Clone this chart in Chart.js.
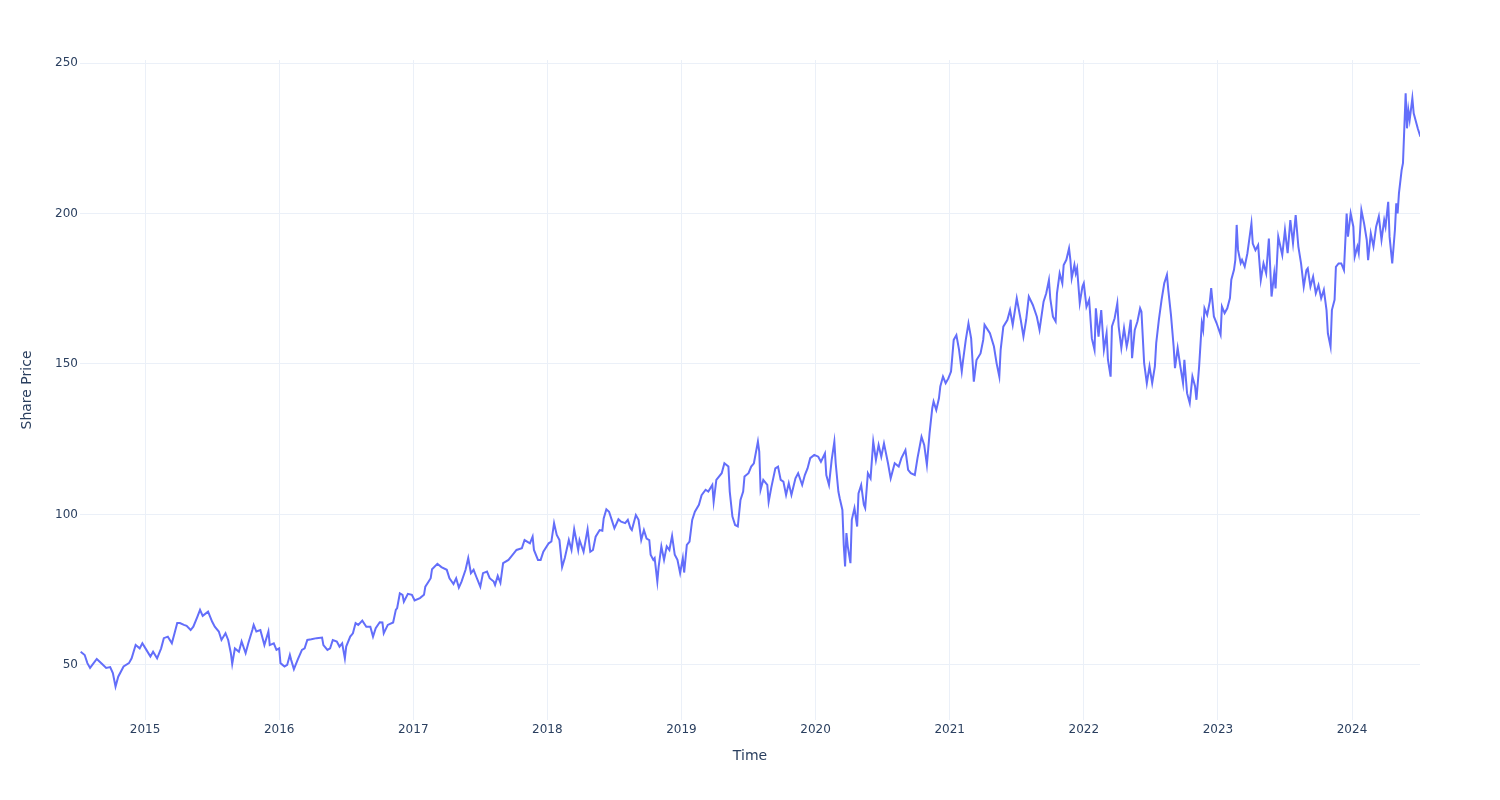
<!DOCTYPE html>
<html lang="en">
<head>
    <meta charset="UTF-8">
    <title>Share Price</title>
    <script src="https://cdn.jsdelivr.net/npm/chart.js"></script>
    <style>
        html, body { margin: 0; padding: 0; background: #ffffff; }
        canvas { display: block; }
    </style>
</head>
<body>
    <canvas id="priceChart" width="1500" height="800"></canvas>

    <script>
        // time in decimal years
        const times = [
            2014.52, 2014.55, 2014.57, 2014.59, 2014.64, 2014.68, 2014.71, 2014.74, 2014.76, 2014.78,
            2014.80, 2014.84, 2014.88, 2014.90, 2014.93, 2014.96, 2014.98, 2015.01, 2015.04, 2015.06,
            2015.09, 2015.12, 2015.14, 2015.17, 2015.20, 2015.22, 2015.24, 2015.26, 2015.29, 2015.31,
            2015.34, 2015.36, 2015.39, 2015.41, 2015.43, 2015.47, 2015.50, 2015.52, 2015.55, 2015.57,
            2015.60, 2015.62, 2015.64, 2015.65, 2015.67, 2015.70, 2015.72, 2015.75, 2015.77, 2015.80,
            2015.81, 2015.83, 2015.86, 2015.88, 2015.89, 2015.92, 2015.93, 2015.96, 2015.98, 2016.00,
            2016.01, 2016.04, 2016.06, 2016.08, 2016.09, 2016.11, 2016.14, 2016.17, 2016.19, 2016.21,
            2016.24, 2016.28, 2016.32, 2016.33, 2016.36, 2016.38, 2016.40, 2016.43, 2016.45, 2016.47,
            2016.49, 2016.50, 2016.53, 2016.55, 2016.57, 2016.59, 2016.62, 2016.65, 2016.68, 2016.70,
            2016.72, 2016.75, 2016.77, 2016.78, 2016.81, 2016.85, 2016.87, 2016.88, 2016.90, 2016.92,
            2016.93, 2016.96, 2016.99, 2017.01, 2017.05, 2017.08, 2017.09, 2017.11, 2017.13, 2017.14,
            2017.18, 2017.21, 2017.25, 2017.27, 2017.30, 2017.32, 2017.34, 2017.36, 2017.39, 2017.41,
            2017.43, 2017.45, 2017.47, 2017.50, 2017.52, 2017.55, 2017.57, 2017.60, 2017.61, 2017.63,
            2017.65, 2017.67, 2017.71, 2017.73, 2017.77, 2017.81, 2017.83, 2017.87, 2017.89, 2017.90,
            2017.93, 2017.95, 2017.97, 2018.01, 2018.03, 2018.05, 2018.07, 2018.09, 2018.11, 2018.13,
            2018.16, 2018.18, 2018.20, 2018.23, 2018.24, 2018.27, 2018.30, 2018.32, 2018.34, 2018.36,
            2018.39, 2018.41, 2018.42, 2018.44, 2018.46, 2018.48, 2018.50, 2018.53, 2018.55, 2018.58,
            2018.60, 2018.62, 2018.63, 2018.66, 2018.68, 2018.70, 2018.72, 2018.74, 2018.76, 2018.77,
            2018.79, 2018.80, 2018.82, 2018.83, 2018.85, 2018.87, 2018.89, 2018.91, 2018.93, 2018.95,
            2018.97, 2018.99, 2019.01, 2019.02, 2019.04, 2019.06, 2019.08, 2019.10, 2019.13, 2019.15,
            2019.18, 2019.20, 2019.23, 2019.24, 2019.26, 2019.30, 2019.32, 2019.35, 2019.36, 2019.38,
            2019.40, 2019.42, 2019.44, 2019.46, 2019.47, 2019.50, 2019.52, 2019.54, 2019.57, 2019.58,
            2019.59, 2019.61, 2019.64, 2019.65, 2019.67, 2019.70, 2019.72, 2019.74, 2019.76, 2019.78,
            2019.80, 2019.82, 2019.85, 2019.87, 2019.90, 2019.92, 2019.94, 2019.96, 2019.99, 2020.02,
            2020.04, 2020.07, 2020.08, 2020.10, 2020.12, 2020.14, 2020.15, 2020.17, 2020.18, 2020.20,
            2020.21, 2020.22, 2020.23, 2020.24, 2020.26, 2020.27, 2020.29, 2020.31, 2020.32, 2020.34,
            2020.36, 2020.37, 2020.39, 2020.41, 2020.43, 2020.45, 2020.47, 2020.49, 2020.51, 2020.54,
            2020.56, 2020.59, 2020.62, 2020.64, 2020.67, 2020.69, 2020.71, 2020.74, 2020.76, 2020.79,
            2020.81, 2020.83, 2020.85, 2020.87, 2020.88, 2020.90, 2020.92, 2020.93, 2020.95, 2020.97,
            2020.99, 2021.01, 2021.03, 2021.05, 2021.07, 2021.09, 2021.10, 2021.12, 2021.14, 2021.16,
            2021.18, 2021.20, 2021.23, 2021.25, 2021.26, 2021.30, 2021.33, 2021.35, 2021.37, 2021.38,
            2021.40, 2021.43, 2021.45, 2021.47, 2021.50, 2021.53, 2021.55, 2021.57, 2021.59, 2021.62,
            2021.65, 2021.67, 2021.70, 2021.72, 2021.74, 2021.75, 2021.77, 2021.79, 2021.80, 2021.82,
            2021.84, 2021.85, 2021.87, 2021.89, 2021.90, 2021.91, 2021.93, 2021.94, 2021.95, 2021.97,
            2021.99, 2022.00, 2022.02, 2022.04, 2022.06, 2022.08, 2022.09, 2022.11, 2022.13, 2022.15,
            2022.17, 2022.18, 2022.20, 2022.21, 2022.23, 2022.25, 2022.26, 2022.28, 2022.30, 2022.32,
            2022.33, 2022.35, 2022.36, 2022.38, 2022.40, 2022.42, 2022.43, 2022.45, 2022.47, 2022.49,
            2022.51, 2022.53, 2022.54, 2022.56, 2022.58, 2022.60, 2022.62, 2022.63, 2022.65, 2022.67,
            2022.68, 2022.70, 2022.72, 2022.74, 2022.75, 2022.77, 2022.79, 2022.81, 2022.83, 2022.84,
            2022.86, 2022.88, 2022.89, 2022.90, 2022.92, 2022.94, 2022.95, 2022.97, 2022.99, 2023.02,
            2023.03, 2023.05, 2023.07, 2023.09, 2023.10, 2023.12, 2023.13, 2023.14, 2023.15, 2023.17,
            2023.18, 2023.20, 2023.22, 2023.23, 2023.25, 2023.26, 2023.28, 2023.30, 2023.32, 2023.34,
            2023.36, 2023.38, 2023.40, 2023.42, 2023.43, 2023.45, 2023.48, 2023.50, 2023.52, 2023.54,
            2023.56, 2023.58, 2023.60, 2023.62, 2023.64, 2023.66, 2023.67, 2023.69, 2023.71, 2023.73,
            2023.75, 2023.77, 2023.79, 2023.81, 2023.82, 2023.84, 2023.85, 2023.87, 2023.88, 2023.90,
            2023.92, 2023.94, 2023.96, 2023.97, 2023.99, 2024.01, 2024.02, 2024.04, 2024.05, 2024.07,
            2024.09, 2024.11, 2024.12, 2024.14, 2024.16, 2024.18, 2024.20, 2024.22, 2024.24, 2024.25,
            2024.27, 2024.28, 2024.30, 2024.32, 2024.33, 2024.34, 2024.35, 2024.37, 2024.38, 2024.40,
            2024.41, 2024.42, 2024.43, 2024.45, 2024.46, 2024.48, 2024.49, 2024.51
        ];

        const prices = [
            54.4, 53.3, 50.6, 49.0, 52.0, 50.3, 49.0, 49.3, 47.3, 42.8,
            46.1, 49.5, 50.6, 52.2, 56.6, 55.5, 57.2, 55.0, 52.8, 54.4,
            52.2, 55.5, 58.9, 59.4, 57.2, 60.5, 63.9, 63.9, 63.3, 63.0,
            61.6, 62.7, 66.0, 68.3, 66.3, 67.7, 64.4, 62.7, 61.1, 58.3,
            60.5, 58.3, 53.9, 50.3, 55.5, 54.4, 57.8, 53.9, 57.2, 61.6,
            63.3, 61.1, 61.6, 58.3, 56.6, 61.1, 56.6, 57.2, 55.0, 55.5,
            50.6, 49.5, 50.0, 53.3, 51.6, 48.6, 51.9, 55.0, 55.5, 58.3,
            58.5, 58.9, 59.1, 56.6, 55.0, 55.5, 58.3, 57.8, 56.1, 57.2,
            52.2, 56.1, 59.4, 60.5, 63.9, 63.3, 64.7, 62.7, 62.7, 59.4,
            62.2, 64.2, 64.1, 60.5, 63.3, 64.1, 68.3, 68.9, 73.8, 73.3,
            71.0, 73.6, 73.3, 71.4, 72.2, 73.3, 76.0, 77.4, 78.8, 81.8,
            83.6, 82.5, 81.6, 78.8, 76.9, 78.8, 75.7, 77.7, 81.6, 85.5,
            80.5, 81.6, 79.3, 76.0, 80.5, 81.0, 78.8, 77.7, 76.6, 79.6,
            77.3, 83.8, 84.9, 86.0, 88.2, 88.8, 91.5, 90.4, 92.6, 88.2,
            84.9, 84.9, 87.6, 90.4, 91.0, 97.1, 93.2, 91.5, 82.5, 85.5,
            91.5, 88.2, 95.1, 88.2, 91.5, 87.6, 95.1, 87.6, 88.2, 92.6,
            94.8, 94.6, 98.7, 101.7, 100.9, 98.2, 95.4, 98.4, 97.6, 97.1,
            98.2, 95.4, 94.8, 99.8, 98.2, 91.5, 94.8, 92.0, 91.5, 86.6,
            84.9, 85.5, 77.7, 82.7, 89.4, 84.9, 89.4, 88.2, 92.9, 86.6,
            84.9, 80.5, 85.5, 80.7, 89.9, 91.0, 98.2, 100.9, 103.2, 106.4,
            108.2, 107.6, 109.8, 104.2, 111.5, 113.7, 117.0, 115.9, 107.6, 99.3,
            96.5, 96.0, 104.8, 107.6, 112.6, 113.7, 115.9, 117.0, 124.2, 120.9,
            108.2, 111.5, 109.8, 104.2, 109.0, 115.3, 115.9, 111.5, 110.9, 106.5,
            110.4, 106.5, 112.0, 113.7, 109.8, 113.1, 115.3, 118.7, 119.8, 119.2,
            117.5, 120.3, 113.1, 109.8, 118.1, 124.2, 117.0, 107.6, 105.4, 101.5,
            89.9, 82.7, 93.8, 89.4, 83.8, 98.2, 102.1, 96.0, 107.0, 109.8,
            103.2, 102.1, 113.7, 112.0, 124.2, 118.1, 123.1, 119.2, 123.6, 117.0,
            112.0, 117.0, 115.9, 118.7, 121.4, 114.8, 113.7, 113.1, 118.7, 125.8,
            123.1, 116.5, 127.0, 135.3, 137.5, 134.7, 138.6, 142.5, 145.8, 143.6,
            145.2, 147.5, 158.0, 159.6, 154.7, 147.5, 151.3, 158.0, 163.5, 158.5,
            144.1, 151.3, 153.5, 158.0, 163.0, 160.2, 155.8, 150.2, 145.8, 154.7,
            162.4, 164.6, 167.9, 163.0, 171.8, 164.6, 159.1, 164.6, 172.4, 169.6,
            165.7, 161.3, 170.7, 173.5, 177.9, 171.8, 165.7, 164.1, 173.5, 180.1,
            176.8, 182.9, 184.6, 188.4, 184.6, 178.5, 182.9, 180.1, 181.8, 170.2,
            175.7, 176.8, 169.0, 171.3, 158.5, 154.7, 168.5, 159.1, 167.9, 154.7,
            160.2, 151.4, 145.8, 162.5, 165.2, 170.2, 162.5, 155.3, 161.9, 155.8,
            158.0, 164.7, 151.9, 161.3, 164.1, 168.5, 167.4, 150.3, 143.6, 149.2,
            143.6, 149.2, 156.9, 164.7, 171.3, 176.8, 179.6, 174.6, 166.3, 155.8,
            148.6, 155.3, 149.2, 143.6, 151.4, 140.3, 137.0, 145.8, 142.5, 138.1,
            149.2, 163.6, 161.3, 168.5, 166.3, 170.8, 175.2, 165.8, 163.6, 159.7,
            169.1, 166.9, 168.5, 171.9, 178.0, 181.3, 184.6, 196.2, 187.9, 183.5,
            184.6, 182.4, 186.8, 190.1, 196.7, 190.0, 187.8, 189.5, 177.9, 183.4,
            180.1, 191.7, 172.4, 180.1, 175.1, 192.3, 186.2, 194.5, 186.8, 197.8,
            190.1, 199.5, 189.0, 183.4, 175.7, 181.2, 181.8, 175.7, 179.0, 173.5,
            176.2, 171.8, 174.6, 167.9, 160.2, 155.8, 167.9, 171.3, 182.3, 183.4,
            183.4, 181.2, 200.0, 192.3, 200.0, 195.6, 185.6, 189.0, 186.8, 201.1,
            196.7, 191.2, 184.5, 193.4, 189.0, 195.6, 199.0, 191.2, 197.8, 195.6,
            203.9, 192.3, 183.4, 194.5, 203.4, 200.0, 206.7, 214.4, 216.7, 239.9,
            228.3, 234.4, 231.1, 238.3, 233.3, 230.0, 228.3, 225.5
        ];

        const yearTicks = [2015, 2016, 2017, 2018, 2019, 2020, 2021, 2022, 2023, 2024];
        const priceTicks = [50, 100, 150, 200, 250];

        const textColor = '#2a3f5f';
        const gridColor = '#ebf0f8';
        const fontFamily = '"DejaVu Sans", Verdana, sans-serif';

        const points = times.map((t, i) => ({ x: t, y: prices[i] }));

        new Chart(document.getElementById('priceChart'), {
            type: 'line',
            data: {
                datasets: [{
                    label: 'Share Price',
                    data: points,
                    borderColor: '#636efa',
                    borderWidth: 2,
                    pointRadius: 0,
                    tension: 0,
                    fill: false
                }]
            },
            options: {
                responsive: false,
                animation: false,
                devicePixelRatio: 1,
                layout: { padding: { left: 0, right: 80, top: 60, bottom: 0 } },
                plugins: {
                    legend: { display: false },
                    tooltip: { enabled: false }
                },
                scales: {
                    x: {
                        type: 'linear',
                        min: 2014.515,
                        max: 2024.507,
                        afterFit: (scale) => { scale.height = 80; },
                        afterBuildTicks: (scale) => {
                            scale.ticks = yearTicks.map(v => ({ value: v }));
                        },
                        grid: { color: gridColor, lineWidth: 1, drawTicks: false },
                        border: { display: false },
                        ticks: {
                            color: textColor,
                            padding: 3,
                            maxRotation: 0,
                            font: { family: fontFamily, size: 12 },
                            callback: (v) => String(v)
                        },
                        title: {
                            display: true,
                            text: 'Time',
                            color: textColor,
                            font: { family: fontFamily, size: 14 },
                            padding: { top: 0, bottom: 35 }
                        }
                    },
                    y: {
                        type: 'linear',
                        min: 31.7,
                        max: 251.0,
                        afterFit: (scale) => { scale.width = 80; },
                        afterBuildTicks: (scale) => {
                            scale.ticks = priceTicks.map(v => ({ value: v }));
                        },
                        grid: { color: gridColor, lineWidth: 1, drawTicks: false },
                        border: { display: false },
                        ticks: {
                            color: textColor,
                            padding: 2,
                            font: { family: fontFamily, size: 12 },
                            callback: (v) => String(v)
                        },
                        title: {
                            display: true,
                            text: 'Share Price',
                            color: textColor,
                            font: { family: fontFamily, size: 14 },
                            padding: { top: 19, bottom: 0 }
                        }
                    }
                }
            }
        });
    </script>
</body>
</html>
